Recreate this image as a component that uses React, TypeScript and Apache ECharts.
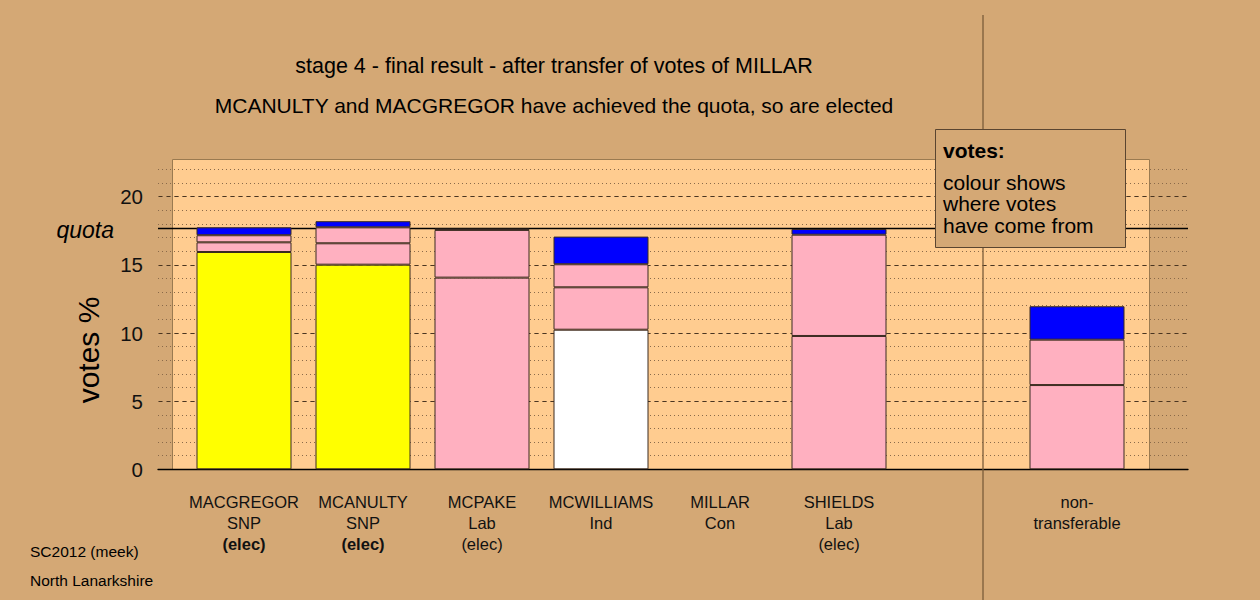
import React, { useEffect, useRef } from "react";
import * as echarts from "echarts";

const candidates = ["MACGREGOR", "MCANULTY", "MCPAKE", "MCWILLIAMS", "MILLAR", "SHIELDS", "", "non-"];
const parties = ["SNP", "SNP", "Lab", "Ind", "Con", "Lab", "", "transferable"];
const statuses = ["(elec)", "(elec)", "(elec)", "", "", "(elec)", "", ""];
const newlyElected = [true, true, false, false, false, false, false, false];

const layer1 = [15.94, 15.01, 14.06, 10.24, null, 9.78, null, 6.18];
const layer1Colors = ["#FFFF00", "#FFFF00", "#FFB0C0", "#FFFFFF", "#FFB0C0", "#FFB0C0", "#FFB0C0", "#FFB0C0"];
const layer2 = [0.71, 1.57, 3.5, 3.11, null, 7.43, null, 3.33];
const layer3 = [0.52, 1.17, null, 1.69, null, null, null, null];
const layer4 = [0.58, 0.45, 0.1, 2.03, null, 0.42, null, 2.45];

const quota = 17.65;
const yTicksMajor = 5;
const yMaxLabels = 20;
const yMaxPanel = 22;

const titleLine1 = "stage 4 - final result - after transfer of votes of MILLAR";
const titleLine2 = "MCANULTY and MACGREGOR have achieved the quota, so are elected";

const FONT = "Liberation Sans, Arial, sans-serif";
const BG = "#D4A875";
const PANEL = "#FFCC90";
const PINK = "#FFB0C0";
const BLUE = "#0000FF";

function toData(arr: (number | null)[], colors?: string[]) {
  return arr.map((v, i) =>
    v == null ? "-" : colors ? { value: v, itemStyle: { color: colors[i] } } : v
  );
}

export default function App() {
  const ref = useRef<HTMLDivElement>(null);
  useEffect(() => {
    if (!ref.current) return;
    const chart = echarts.init(ref.current, null, { renderer: "svg" });
    const top1 = 169.4;
    const top0 = 196.7;
    const bottom = 130.7;
    const txt = (text: string, x: number, y: number, extra: any = {}, align = "left") => ({
      type: "text", silent: true, z: extra.z ?? 0,
      style: {
        text, x, y, fontSize: 15.5, fontFamily: FONT, fill: "#000",
        align, verticalAlign: "middle", textAlign: align, textVerticalAlign: "middle",
        ...extra.style,
      },
    });
    const option: any = {
      animation: false,
      backgroundColor: BG,
      textStyle: { fontFamily: FONT },
      grid: [
        { left: 158, right: 72, top: top0, bottom },
        { left: 158, right: 72, top: top1, bottom },
        { left: 184.5, right: 123.5, top: top1, bottom },
      ],
      xAxis: [
        { gridIndex: 0, type: "value", min: 0, max: 1, show: false },
        {
          gridIndex: 1, type: "value", min: 0, max: 1,
          axisLine: { show: true, lineStyle: { color: "#000", width: 1.3 } },
          axisTick: { show: false }, axisLabel: { show: false }, splitLine: { show: false },
        },
        {
          gridIndex: 2, type: "category", data: candidates.map((c, i) => c || " " + i),
          axisLine: { show: false }, axisTick: { show: false },
          axisLabel: {
            interval: 0, margin: 22, color: "#111",
            formatter: (_v: string, i: number) => {
              const lines: string[] = [];
              if (candidates[i]) lines.push("{n|" + candidates[i] + "}");
              if (parties[i]) lines.push("{n|" + parties[i] + "}");
              if (statuses[i]) lines.push((newlyElected[i] ? "{b|" : "{n|") + statuses[i] + "}");
              return lines.join("\n");
            },
            rich: {
              n: { fontSize: 16.5, lineHeight: 21, color: "#111", fontFamily: FONT },
              b: { fontSize: 16.5, lineHeight: 21, color: "#111", fontWeight: "bold", fontFamily: FONT },
            },
          },
        },
      ],
      yAxis: [
        {
          gridIndex: 0, type: "value", min: 0, max: yMaxLabels, interval: yTicksMajor,
          axisLine: { show: false }, axisTick: { show: false },
          axisLabel: { fontSize: 20.5, color: "#111", margin: 15, fontFamily: FONT },
          splitLine: { show: true, lineStyle: { color: "#4a3520", type: [5, 3], width: 1 } },
        },
        {
          gridIndex: 1, type: "value", min: 0, max: yMaxPanel, interval: 1,
          axisLine: { show: false }, axisTick: { show: false }, axisLabel: { show: false },
          splitLine: { show: true, lineStyle: { color: "#8a6a4a", type: [1, 3], width: 1 } },
        },
        { gridIndex: 2, type: "value", min: 0, max: yMaxPanel, show: false },
      ],
      graphic: [
        {
          type: "rect", z: -100, silent: true,
          shape: { x: 172.5, y: 159.5, width: 977, height: 310 },
          style: { fill: PANEL, stroke: "#9a7a50", lineWidth: 1 },
        },
        {
          type: "line", z: 50, silent: true,
          shape: { x1: 983, y1: 15, x2: 983, y2: 600 },
          style: { stroke: "#7a5c3a", lineWidth: 1.3 },
        },
        {
          type: "rect", z: 60, silent: true,
          shape: { x: 935.5, y: 129.5, width: 190, height: 118 },
          style: { fill: BG, stroke: "#5a4530", lineWidth: 1 },
        },
        txt("votes:", 943, 150, { z: 61, style: { fontSize: 21, fontWeight: "bold" } }),
        txt("colour shows\nwhere votes\nhave come from", 943, 203.5, { z: 61, style: { fontSize: 21, lineHeight: 21.5 } }),
        txt(titleLine1, 554, 66, { style: { fontSize: 21.5 } }, "center"),
        txt(titleLine2, 554, 105, { style: { fontSize: 21 } }, "center"),
        txt("quota", 114, 230, { style: { fontSize: 23, fontStyle: "italic" } }, "right"),
        {
          type: "text", silent: true, rotation: Math.PI / 2, x: 88, y: 350,
          style: { text: "votes %", x: 0, y: 0, fontSize: 30, fontFamily: FONT, fill: "#000", align: "center", verticalAlign: "middle", textAlign: "center", textVerticalAlign: "middle" },
        },
        txt("SC2012 (meek)", 30, 551),
        txt("North Lanarkshire", 30, 580),
      ],
      series: [
        {
          type: "line", xAxisIndex: 1, yAxisIndex: 1, data: [], z: 1, silent: true,
          markLine: {
            silent: true, symbol: "none", label: { show: false },
            lineStyle: { color: "#000", type: "solid", width: 1.3 },
            data: [{ yAxis: quota }],
          },
        },
        ...[
          { d: toData(layer1, layer1Colors), c: PINK },
          { d: toData(layer2), c: PINK },
          { d: toData(layer3), c: PINK },
          { d: toData(layer4), c: BLUE },
        ].map((s) => ({
          type: "bar", xAxisIndex: 2, yAxisIndex: 2, stack: "votes", barWidth: 95, z: 5,
          data: s.d,
          itemStyle: { color: s.c, borderColor: "#3a2a20", borderWidth: 1 },
        })),
      ],
    };
    chart.setOption(option);
    return () => chart.dispose();
  }, []);
  return (
    <div
      ref={ref}
      style={{ position: "absolute", left: 0, top: 0, width: 1260, height: 600 }}
    />
  );
}
